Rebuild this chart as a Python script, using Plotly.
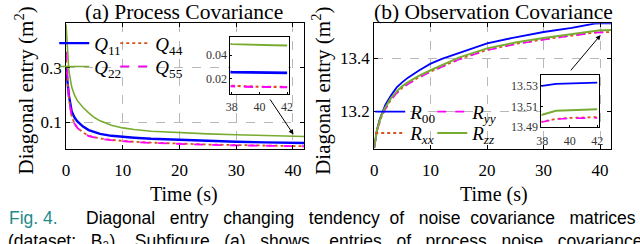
import plotly.graph_objects as go

# ---------------- data ----------------
t = [0, 0.25, 0.5, 1, 1.5, 2, 3, 4, 5, 6, 8, 10, 12, 15, 20, 25, 30, 35, 38, 39, 40, 41, 42]

q11 = [0.300, 0.240, 0.200, 0.140, 0.118, 0.104, 0.085, 0.072, 0.064, 0.058, 0.051, 0.047,
       0.044, 0.040, 0.036, 0.032, 0.029, 0.027, 0.0255, 0.0252, 0.0250, 0.0249, 0.0248]
q22 = [0.460, 0.360, 0.290, 0.230, 0.200, 0.180, 0.155, 0.135, 0.118, 0.106, 0.090, 0.080,
       0.074, 0.068, 0.062, 0.058, 0.055, 0.052, 0.0495, 0.0490, 0.0487, 0.0485, 0.0483]
q44 = [0.330, 0.245, 0.188, 0.122, 0.096, 0.081, 0.063, 0.051, 0.045, 0.041, 0.036, 0.032,
       0.029, 0.026, 0.022, 0.019, 0.017, 0.015, 0.0134, 0.0132, 0.0130, 0.0129, 0.0128]
q55 = [0.360, 0.250, 0.190, 0.120, 0.095, 0.080, 0.062, 0.050, 0.044, 0.040, 0.035, 0.031,
       0.028, 0.025, 0.021, 0.018, 0.016, 0.014, 0.0132, 0.0130, 0.0128, 0.0127, 0.0126]

r00 = [13.060, 13.100, 13.130, 13.170, 13.200, 13.225, 13.260, 13.290, 13.310, 13.327, 13.355, 13.380,
       13.398, 13.420, 13.457, 13.480, 13.500, 13.516, 13.5300, 13.5320, 13.5325, 13.5330, 13.5332]
rxx = [13.060, 13.098, 13.126, 13.160, 13.189, 13.209, 13.244, 13.269, 13.289, 13.304, 13.329, 13.350,
       13.370, 13.397, 13.432, 13.455, 13.472, 13.488, 13.4960, 13.4980, 13.4990, 13.4995, 13.4998]
ryy = [13.060, 13.097, 13.125, 13.159, 13.188, 13.208, 13.243, 13.268, 13.288, 13.303, 13.328, 13.349,
       13.369, 13.396, 13.431, 13.454, 13.471, 13.487, 13.4950, 13.4978, 13.4985, 13.4990, 13.4990]
rzz = [13.060, 13.100, 13.130, 13.165, 13.195, 13.215, 13.250, 13.275, 13.295, 13.310, 13.335, 13.355,
       13.375, 13.403, 13.438, 13.460, 13.477, 13.493, 13.5020, 13.5060, 13.5068, 13.5070, 13.5075]

x_ticks = [0, 10, 20, 30, 40]
q_ticks = [0.1, 0.3]
r_ticks = [13.2, 13.4]
inset_x_ticks = [38, 40, 42]
q_inset_ticks = [0.02, 0.04]
r_inset_ticks = [13.49, 13.51, 13.53]

caption_fig = "Fig. 4."
caption_line1 = ["Diagonal", "entry", "changing", "tendency", "of", "noise", "covariance", "matrices"]
caption_line2 = ["(dataset:", "B\u2083).", "Subfigure", "(a)", "shows", "entries", "of", "process",
                 "noise", "covariance"]

# ---------------- styling ----------------
SERIF = "Liberation Serif"
SANS = "Liberation Sans"
BLUE, GREEN, ORANGE, MAGENTA = "#0000ff", "#77ac30", "#d95319", "#ff00ff"
W, H = 640, 244

def px_x(p):
    return p / W

def px_y(p):
    return 1 - p / H

fig = go.Figure()

left = [
    ("<i>Q</i><sub>11</sub>", q11, BLUE, "solid", 2.4, "legend"),
    ("<i>Q</i><sub>22</sub>", q22, GREEN, "solid", 1.6, "legend2"),
    ("<i>Q</i><sub>44</sub>", q44, ORANGE, "dot", 1.8, "legend3"),
    ("<i>Q</i><sub>55</sub>", q55, MAGENTA, "dash", 1.8, "legend4"),
]
right = [
    ("<i>R</i><sub>00</sub>", r00, BLUE, "solid", 1.8, "legend5"),
    ("<i>R</i><sub><i>xx</i></sub>", rxx, ORANGE, "dot", 1.8, "legend7"),
    ("<i>R</i><sub><i>yy</i></sub>", ryy, MAGENTA, "dash", 1.6, "legend6"),
    ("<i>R</i><sub><i>zz</i></sub>", rzz, GREEN, "solid", 2.0, "legend8"),
]

for name, y, c, d, w, lg in left:
    fig.add_trace(go.Scatter(x=t, y=y, mode="lines", name=name, legend=lg,
                             line=dict(color=c, dash=d, width=w), xaxis="x", yaxis="y"))
for name, y, c, d, w, lg in left:
    fig.add_trace(go.Scatter(x=t, y=y, mode="lines", showlegend=False,
                             line=dict(color=c, dash=d, width=w + 0.3), xaxis="x3", yaxis="y3"))
for name, y, c, d, w, lg in right:
    fig.add_trace(go.Scatter(x=t, y=y, mode="lines", name=name, legend=lg,
                             line=dict(color=c, dash=d, width=w), xaxis="x2", yaxis="y2"))
for name, y, c, d, w, lg in right:
    fig.add_trace(go.Scatter(x=t, y=y, mode="lines", showlegend=False,
                             line=dict(color=c, dash=d, width=w), xaxis="x4", yaxis="y4"))

main_ax = dict(showline=True, linecolor="black", linewidth=1, mirror="ticks",
               ticks="inside", ticklen=4, tickcolor="black",
               showgrid=True, gridcolor="#b8b8b8", griddash="dash", gridwidth=1,
               zeroline=False, tickfont=dict(family=SERIF, size=17, color="black"))
inset_ax = dict(showline=True, linecolor="black", linewidth=1, mirror=True,
                ticks="inside", ticklen=2, tickcolor="black", showgrid=False,
                zeroline=False, tickfont=dict(family=SERIF, size=12, color="#333333"))

y_dom = [px_y(153), px_y(24)]
fig.update_layout(
    xaxis=dict(main_ax, domain=[px_x(62), px_x(304)], range=[0, 42], tickvals=x_ticks, anchor="y",
               ticklabelstandoff=6),
    yaxis=dict(main_ax, domain=y_dom, range=[0.004, 0.464], tickvals=q_ticks, anchor="x"),
    xaxis2=dict(main_ax, domain=[px_x(375), px_x(616)], range=[0, 42], tickvals=x_ticks, anchor="y2",
                ticklabelstandoff=6),
    yaxis2=dict(main_ax, domain=y_dom, range=[13.058, 13.533], tickvals=r_ticks, anchor="x2"),
    xaxis3=dict(inset_ax, domain=[px_x(229), px_x(288)], range=[37.9, 42.1], tickvals=inset_x_ticks,
                anchor="y3", ticklabelstandoff=2),
    yaxis3=dict(inset_ax, domain=[px_y(96.5), px_y(38)], range=[0.007, 0.0557], tickvals=q_inset_ticks,
                anchor="x3"),
    xaxis4=dict(inset_ax, domain=[px_x(545), px_x(603)], range=[37.95, 42.1], tickvals=inset_x_ticks,
                anchor="y4", ticklabelstandoff=2),
    yaxis4=dict(inset_ax, domain=[px_y(131), px_y(77)], range=[13.49, 13.5407], tickvals=r_inset_ticks,
                anchor="x4"),
)

# white background for the insets
for xr, yr in (("x3", "y3"), ("x4", "y4")):
    fig.add_shape(type="rect", xref=f"{xr} domain", yref=f"{yr} domain", x0=0, x1=1, y0=0, y1=1,
                  fillcolor="white", line=dict(width=0), layer="below")

# legends: one per entry so the 2x2 layout matches
leg_font = dict(family=SERIF, size=19, color="black")
leg_pos = {
    "legend": (50, 25), "legend3": (112, 25), "legend2": (50, 49), "legend4": (112, 49),
    "legend5": (371, 95.5), "legend6": (434, 95.5), "legend7": (371, 117.5), "legend8": (434, 117.5),
}
for lg, (lx, ly) in leg_pos.items():
    fig.update_layout({lg: dict(x=px_x(lx), y=px_y(ly), xanchor="left", yanchor="top",
                                bgcolor="rgba(0,0,0,0)", font=leg_font, borderwidth=0)})

# arrows pointing from insets to the zoomed region
fig.add_annotation(x=40.1, y=0.056, ax=35.8, ay=0.19, xref="x", yref="y", axref="x", ayref="y",
                   showarrow=True, arrowhead=2, arrowsize=1, arrowwidth=1, arrowcolor="black", text="")
fig.add_annotation(x=40.1, y=13.489, ax=34.6, ay=13.349, xref="x2", yref="y2", axref="x2", ayref="y2",
                   showarrow=True, arrowhead=2, arrowsize=1, arrowwidth=1, arrowcolor="black", text="")

def label(text, x, y, size, **kw):
    fig.add_annotation(text=text, x=x, y=y, xref="paper", yref="paper", showarrow=False,
                       font=dict(family=kw.pop("family", SERIF), size=size, color=kw.pop("color", "black")),
                       **kw)

label("(a) Process Covariance", px_x(182), px_y(12.5), 21.5, xanchor="center", yanchor="middle")
label("(b) Observation Covariance", px_x(496), px_y(12.5), 21.5, xanchor="center", yanchor="middle")
label("Time (s)", px_x(182), px_y(200), 20, xanchor="center", yanchor="middle")
label("Time (s)", px_x(497), px_y(200), 20, xanchor="center", yanchor="middle")
label("Diagonal entry (m<sup>2</sup>)", px_x(19.5), px_y(93), 21, xanchor="center", yanchor="middle",
      textangle=-90)
label("Diagonal entry (m<sup>2</sup>)", px_x(321.5), px_y(93), 21, xanchor="center", yanchor="middle",
      textangle=-90)

# caption (justified text: widened word gaps)
def justify(words, gaps):
    out = words[0]
    for wd, g in zip(words[1:], gaps):
        out += " " * g + wd
    return out

label(caption_fig, px_x(2), px_y(224.5), 17.5, family=SANS, color="#1f8a8a",
      xanchor="left", yanchor="middle")
label(justify(caption_line1, [3, 3, 3, 2, 3, 2, 3]), px_x(80), px_y(224.5), 17.5, family=SANS,
      xanchor="left", yanchor="middle")
label(justify(caption_line2, [3, 3, 3, 3, 4, 3, 3, 3, 3]), px_x(1), px_y(248), 17.5, family=SANS,
      xanchor="left", yanchor="middle")

fig.update_layout(width=W, height=H, margin=dict(l=0, r=0, t=0, b=0),
                  paper_bgcolor="white", plot_bgcolor="white", showlegend=True)

fig.write_html("out.html", config={"displayModeBar": False},
               post_script="document.body.style.margin='0';"
                           "document.documentElement.style.overflow='hidden';")
